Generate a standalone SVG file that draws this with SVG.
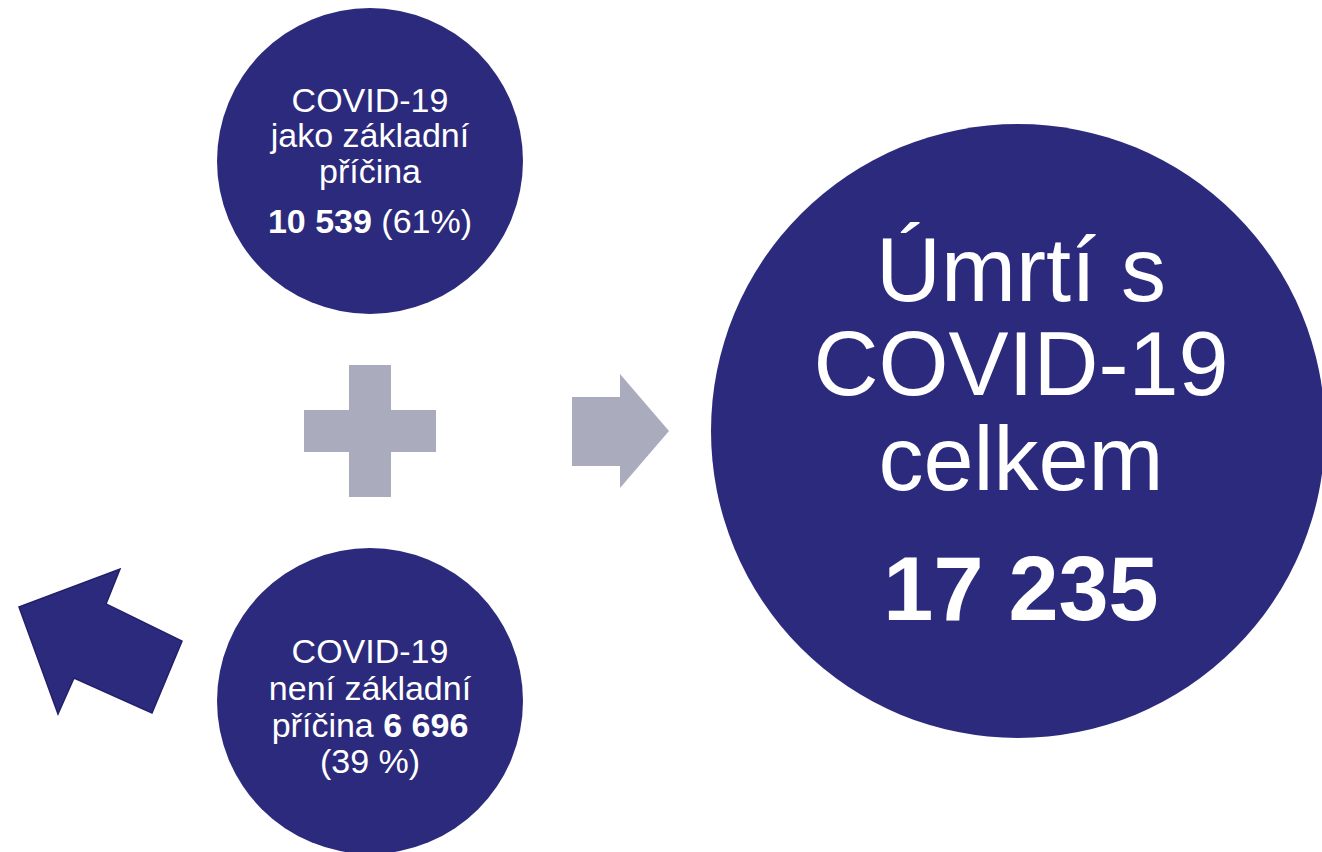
<svg xmlns="http://www.w3.org/2000/svg" width="1322" height="852" viewBox="0 0 1322 852">
<style>
.c{fill:#2c2a7c}
.g{fill:#ababbe}
.t{font-family:"Liberation Sans",Arial,sans-serif;fill:#ffffff;text-anchor:middle}
.s{font-size:34px}
.b{font-weight:bold}
.L{font-size:90px}
</style>
<rect width="1322" height="852" fill="#ffffff"/>
<g id="connectors">
<path id="plus" class="g" d="M349 365H391V410H436V452H391V497H349V452H304V410H349Z"/>
<path id="arrow-right" class="g" d="M572 397H620V374L669 431L620 488V466H572Z"/>
<path id="arrow-left" class="c" stroke="#22206a" stroke-width="1.5" d="M19 607L120 569L106 604L182 641L152 713L74 678L58 714Z"/>
</g>
<g id="node-top">
<circle class="c" cx="370" cy="161" r="153"/>
<text class="t s" x="370" y="112">COVID-19</text>
<text class="t s" x="370" y="147">jako základní</text>
<text class="t s" x="370" y="183">příčina</text>
<text class="t s" x="370" y="233"><tspan class="b">10 539</tspan> (61%)</text>
</g>
<g id="node-bottom">
<circle class="c" cx="370" cy="701" r="153"/>
<text class="t s" x="370" y="663">COVID-19</text>
<text class="t s" x="370" y="700">není základní</text>
<text class="t s" x="370" y="737">příčina <tspan class="b">6 696</tspan></text>
<text class="t s" x="370" y="773">(39 %)</text>
</g>
<g id="node-total">
<circle class="c" cx="1018" cy="431" r="307"/>
<text class="t L" x="1021" y="301">Úmrtí s</text>
<text class="t L" x="1021" y="395">COVID-19</text>
<text class="t L" x="1021" y="490">celkem</text>
<text class="t L b" x="1021" y="620">17 235</text>
</g>
</svg>
